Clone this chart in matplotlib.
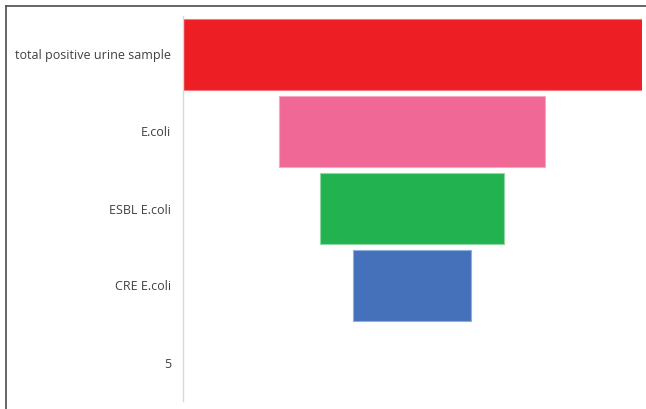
import matplotlib
matplotlib.use("Agg")
import matplotlib.pyplot as plt
from matplotlib.lines import Line2D

categories = ["total positive urine sample", "E.coli", "ESBL E.coli", "CRE E.coli", "5"]
values = [458, 265, 183, 118, 0]
colors = ["#ED1F24", "#F06896", "#22B24F", "#4571BA", "#FFFFFF"]
edge_colors = ["#F5787C", "#F7A6C2", "#8FD8A5", "#8FAEE0", "#FFFFFF"]

W, H = 646, 409
fig = plt.figure(figsize=(W / 100, H / 100), dpi=100)
ax = fig.add_axes([182.5 / W, 1 - 401 / H, (641.5 - 182.5) / W, (401 - 16) / H])

vmax = max(values)
ypos = list(range(len(categories)))
lefts = [(vmax - v) / 2 for v in values]
for y, v, l, c, ec in zip(ypos, values, lefts, colors, edge_colors):
    if v > 0:
        ax.barh(y, v, left=l, height=0.92, color=c, edgecolor=ec, linewidth=0.8)

ax.set_xlim(0, vmax)
ax.set_ylim(len(categories) - 0.5, -0.5)
ax.set_yticks(ypos)
ax.set_yticklabels(categories, fontfamily="Open Sans", fontsize=9, color="#404040")
ax.tick_params(axis="y", length=0, pad=8)
ax.set_xticks([])
for s in ["top", "right", "bottom"]:
    ax.spines[s].set_visible(False)
ax.spines["left"].set_color("#D9D9D9")
ax.spines["left"].set_linewidth(1.0)

# outer frame (cropped: only left and top visible)
fig.add_artist(Line2D([5.5 / W, 5.5 / W], [0, 1 - 5.5 / H], transform=fig.transFigure,
                      color="#595959", linewidth=1.3))
fig.add_artist(Line2D([5.5 / W, 1], [1 - 5.5 / H, 1 - 5.5 / H], transform=fig.transFigure,
                      color="#595959", linewidth=1.3))

fig.savefig("out.png", dpi=100)
